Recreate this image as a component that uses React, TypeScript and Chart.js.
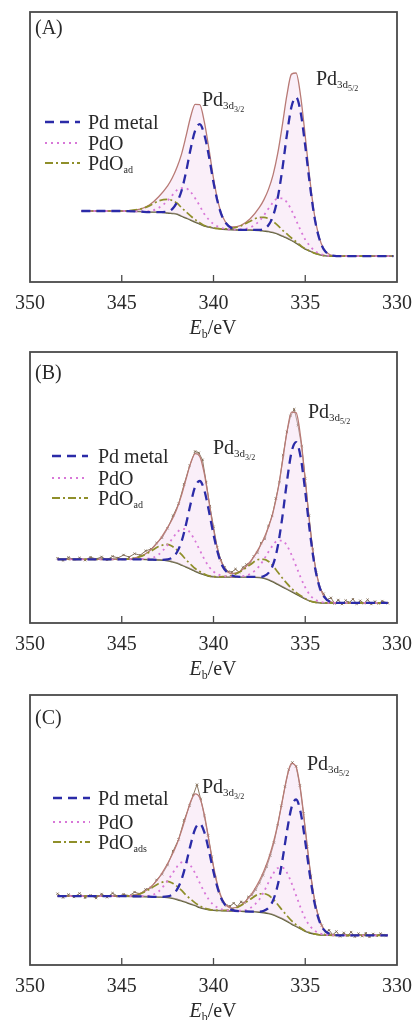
import React, { useEffect, useRef } from "react";
import { Chart, registerables } from "chart.js";

Chart.register(...registerables);

const SERIF = "'Liberation Serif', 'Times New Roman', 'DejaVu Serif', serif";

// ---------- data ----------
const xTickValues = [350, 345, 340, 335, 330];
const innerTickValues = [345, 340, 335];
const legendNames = ["Pd metal", "PdO", "PdO"];
const adSubA = "ad";
const adSubB = "ad";
const adSubC = "ads";
const peakSubLeft = "3/2";
const peakSubRight = "5/2";

const energyA = [347.2, 346, 345, 344, 343.5, 343, 342.5, 342.25, 342, 341.75, 341.5, 341.25, 341, 340.75, 340.5, 340.25, 340, 339.75, 339.5, 339, 338.5, 338, 337.5, 337.25, 337, 336.75, 336.5, 336.25, 336, 335.75, 335.5, 335.25, 335, 334.75, 334.5, 334.25, 334, 333.5, 333, 332, 331, 330.2];
const bgA = [26.3, 26.3, 26.3, 26.1, 25.9, 25.9, 25.6, 25.4, 25.2, 24.4, 23.7, 23.0, 22.2, 21.5, 20.7, 20.4, 20.0, 19.8, 19.6, 19.4, 19.3, 19.3, 19.1, 18.9, 18.7, 18.3, 17.8, 17.0, 16.3, 15.4, 14.4, 13.3, 12.2, 11.5, 10.7, 10.2, 9.8, 9.6, 9.6, 9.6, 9.6, 9.6];
const metalA = [26.3, 26.3, 26.3, 26.1, 25.9, 25.9, 26.1, 27.0, 29.4, 33.6, 40.6, 49.2, 56.1, 58.5, 54.6, 46.6, 36.9, 29.0, 23.8, 19.9, 19.3, 19.3, 19.3, 19.7, 21.1, 24.5, 31.2, 41.7, 54.5, 64.9, 68.4, 62.8, 50.4, 36.2, 24.1, 16.4, 12.2, 9.8, 9.6, 9.6, 9.6, 9.6];
const pdoA = [26.3, 26.3, 26.3, 26.1, 26.2, 27.4, 30.1, 32.1, 34.0, 34.8, 34.7, 33.4, 31.0, 28.2, 25.2, 23.1, 21.5, 20.5, 19.9, 19.4, 19.5, 20.2, 22.6, 24.7, 27.2, 29.5, 31.0, 31.0, 29.5, 26.6, 22.9, 19.1, 15.7, 13.4, 11.6, 10.6, 10.0, 9.6, 9.6, 9.6, 9.6, 9.6];
const adA = [26.3, 26.3, 26.3, 27.0, 28.2, 30.0, 30.6, 30.2, 29.3, 27.6, 26.0, 24.5, 23.1, 22.0, 20.9, 20.5, 20.0, 19.8, 19.7, 19.9, 20.8, 22.5, 23.9, 23.9, 23.5, 22.4, 21.0, 19.3, 17.8, 16.3, 14.9, 13.5, 12.3, 11.5, 10.7, 10.2, 9.8, 9.6, 9.6, 9.6, 9.6, 9.6];
const envA = [26.3, 26.3, 26.3, 27.0, 28.5, 31.5, 35.6, 38.5, 42.3, 47.2, 53.9, 61.1, 65.8, 65.7, 59.3, 49.4, 38.4, 29.7, 24.2, 20.4, 21.0, 23.4, 27.6, 30.5, 34.4, 39.8, 47.6, 58.0, 69.2, 77.0, 77.4, 68.8, 54.0, 38.1, 25.0, 16.8, 12.4, 9.8, 9.6, 9.6, 9.6, 9.6];

const energyB = [348.5, 346, 345, 344, 343.5, 343, 342.5, 342.25, 342, 341.75, 341.5, 341.25, 341, 340.75, 340.5, 340.25, 340, 339.75, 339.5, 339, 338.5, 338, 337.5, 337.25, 337, 336.75, 336.5, 336.25, 336, 335.75, 335.5, 335.25, 335, 334.75, 334.5, 334.25, 334, 333.5, 333, 332, 331, 330.5];
const bgB = [23.5, 23.5, 23.5, 23.5, 23.4, 23.3, 23.0, 22.6, 22.1, 21.4, 20.7, 19.9, 19.1, 18.4, 17.8, 17.3, 17.1, 17.0, 17.0, 17.0, 17.0, 17.0, 16.8, 16.5, 16.0, 15.2, 14.3, 13.4, 12.5, 11.6, 10.7, 9.8, 8.9, 8.1, 7.7, 7.5, 7.4, 7.4, 7.4, 7.4, 7.4, 7.4];
const metalB = [23.5, 23.5, 23.5, 23.5, 23.4, 23.3, 23.5, 24.1, 26.0, 29.9, 36.3, 43.9, 50.3, 52.4, 49.0, 41.3, 32.7, 25.5, 20.9, 17.5, 17.0, 17.0, 17.0, 17.3, 18.5, 21.6, 28.2, 39.0, 52.1, 63.0, 66.7, 61.2, 48.5, 33.7, 21.6, 13.9, 9.9, 7.6, 7.4, 7.4, 7.4, 7.4];
const pdoB = [23.5, 23.5, 23.5, 23.6, 23.8, 25.2, 28.8, 31.1, 33.3, 34.6, 34.7, 33.1, 30.3, 26.9, 23.6, 20.8, 19.0, 17.9, 17.4, 17.1, 17.2, 18.1, 21.0, 23.5, 26.3, 28.8, 30.4, 30.4, 28.6, 25.2, 21.0, 16.8, 13.1, 10.4, 8.8, 8.0, 7.6, 7.4, 7.4, 7.4, 7.4, 7.4];
const adB = [23.5, 23.5, 23.5, 24.5, 26.1, 28.2, 29.0, 28.3, 27.0, 25.3, 23.4, 21.7, 20.1, 19.0, 18.1, 17.4, 17.1, 17.0, 17.1, 17.6, 19.1, 21.5, 23.5, 23.5, 22.7, 21.0, 18.8, 16.6, 14.6, 12.8, 11.3, 10.1, 9.0, 8.1, 7.7, 7.5, 7.4, 7.4, 7.4, 7.4, 7.4, 7.4];
const envB = [23.5, 23.5, 23.5, 24.6, 26.5, 30.1, 35.3, 38.3, 42.1, 47.0, 53.0, 58.9, 62.5, 61.5, 55.1, 44.9, 34.6, 26.4, 21.4, 18.2, 19.3, 22.6, 27.9, 31.3, 35.5, 41.0, 48.8, 59.2, 70.3, 77.8, 77.6, 68.5, 52.8, 36.0, 22.7, 14.4, 10.1, 7.6, 7.4, 7.4, 7.4, 7.4];
const rawEnergyB = [348.5, 348.2, 347.9, 347.6, 347.3, 347.0, 346.7, 346.4, 346.1, 345.8, 345.5, 345.2, 344.9, 344.6, 344.3, 344.0, 343.7, 343.4, 343.1, 342.8, 342.5, 342.2, 341.9, 341.6, 341.3, 341.0, 340.8, 340.6, 340.4, 340.2, 340.0, 339.8, 339.6, 339.4, 339.2, 339.0, 338.8, 338.6, 338.4, 338.2, 338.0, 337.8, 337.6, 337.4, 337.2, 337.0, 336.8, 336.6, 336.4, 336.2, 336.0, 335.8, 335.6, 335.4, 335.2, 335.0, 334.8, 334.6, 334.4, 334.2, 334.0, 333.8, 333.6, 333.4, 333.2, 333.0, 332.8, 332.6, 332.4, 332.2, 332.0, 331.8, 331.6, 331.4, 331.2, 331.0, 330.8, 330.5];
const rawB = [23.9, 23.1, 24.2, 23.4, 24.0, 23.2, 24.3, 23.6, 24.4, 23.3, 24.6, 24.0, 25.1, 24.3, 25.6, 25.0, 26.6, 27.3, 29.5, 31.4, 34.9, 39.6, 44.0, 51.2, 58.0, 63.3, 62.8, 60.2, 52.0, 43.1, 35.5, 28.0, 23.2, 20.6, 19.0, 18.8, 19.9, 18.7, 20.5, 21.6, 22.0, 24.6, 25.9, 29.5, 31.0, 35.8, 39.5, 45.9, 52.0, 62.0, 70.5, 76.4, 78.9, 73.0, 65.3, 53.2, 39.6, 27.3, 18.5, 12.9, 10.8, 8.6, 9.3, 7.2, 8.5, 7.0, 8.3, 7.6, 8.8, 7.1, 8.2, 7.3, 8.6, 7.0, 7.9, 7.2, 8.1, 7.3];

const energyC = [348.5, 346, 345, 344, 343.5, 343, 342.5, 342.25, 342, 341.75, 341.5, 341.25, 341, 340.75, 340.5, 340.25, 340, 339.75, 339.5, 339, 338.5, 338, 337.5, 337.25, 337, 336.75, 336.5, 336.25, 336, 335.75, 335.5, 335.25, 335, 334.75, 334.5, 334.25, 334, 333.5, 333, 332, 331, 330.5];
const bgC = [25.5, 25.5, 25.5, 25.4, 25.3, 25.2, 25.0, 24.7, 24.3, 23.8, 23.2, 22.6, 22.0, 21.3, 20.8, 20.5, 20.3, 20.2, 20.1, 20.0, 19.9, 19.8, 19.6, 19.4, 19.1, 18.6, 17.9, 17.1, 16.2, 15.2, 14.3, 13.4, 12.5, 11.9, 11.5, 11.2, 11.1, 11.0, 11.0, 11.0, 11.0, 11.0];
const metalC = [25.5, 25.5, 25.5, 25.4, 25.3, 25.2, 25.4, 26.1, 27.8, 31.5, 37.4, 44.5, 50.4, 52.3, 49.2, 42.4, 34.5, 27.9, 23.6, 20.4, 19.9, 19.8, 19.8, 20.1, 21.2, 24.0, 29.6, 38.6, 49.4, 58.3, 61.3, 56.5, 45.7, 33.4, 23.2, 16.6, 13.2, 11.2, 11.0, 11.0, 11.0, 11.0];
const pdoC = [25.5, 25.5, 25.5, 25.5, 25.7, 27.2, 31.2, 33.8, 36.3, 38.0, 38.2, 36.8, 34.0, 30.4, 27.0, 24.2, 22.3, 21.2, 20.5, 20.1, 20.1, 21.1, 24.3, 27.2, 30.6, 33.8, 35.9, 36.1, 34.2, 30.4, 25.8, 21.2, 17.2, 14.5, 12.8, 11.8, 11.3, 11.0, 11.0, 11.0, 11.0, 11.0];
const adC = [25.5, 25.5, 25.5, 26.4, 28.0, 30.1, 31.0, 30.4, 29.2, 27.7, 25.9, 24.4, 23.0, 21.9, 21.1, 20.6, 20.3, 20.2, 20.2, 20.6, 22.0, 24.3, 26.3, 26.4, 25.8, 24.4, 22.4, 20.3, 18.3, 16.4, 14.9, 13.7, 12.6, 11.9, 11.5, 11.2, 11.1, 11.0, 11.0, 11.0, 11.0, 11.0];
const envC = [25.5, 25.5, 25.5, 26.5, 28.4, 32.1, 37.6, 40.9, 44.7, 49.6, 55.1, 60.5, 63.4, 62.0, 55.7, 46.2, 36.5, 28.9, 24.1, 21.1, 22.2, 25.6, 31.2, 34.9, 39.4, 45.0, 52.1, 60.8, 69.5, 74.7, 73.4, 64.6, 50.5, 36.0, 24.5, 17.2, 13.4, 11.2, 11.0, 11.0, 11.0, 11.0];
const rawEnergyC = [348.5, 348.2, 347.9, 347.6, 347.3, 347.0, 346.7, 346.4, 346.1, 345.8, 345.5, 345.2, 344.9, 344.6, 344.3, 344.0, 343.7, 343.4, 343.1, 342.8, 342.5, 342.2, 341.9, 341.6, 341.3, 341.1, 340.9, 340.7, 340.5, 340.3, 340.1, 339.9, 339.7, 339.5, 339.3, 339.1, 338.9, 338.7, 338.5, 338.3, 338.1, 337.9, 337.7, 337.5, 337.3, 337.1, 336.9, 336.7, 336.5, 336.3, 336.1, 335.9, 335.7, 335.5, 335.3, 335.1, 334.9, 334.7, 334.5, 334.3, 334.1, 333.9, 333.7, 333.5, 333.3, 333.1, 332.9, 332.7, 332.5, 332.3, 332.1, 331.9, 331.7, 331.5, 331.3, 331.1, 330.9, 330.6];
const rawC = [26.4, 25.0, 26.1, 25.2, 26.5, 24.9, 25.8, 24.8, 26.3, 25.1, 26.6, 25.4, 26.2, 25.6, 27.0, 26.3, 28.0, 28.6, 31.5, 33.6, 37.0, 42.2, 46.5, 53.6, 59.0, 63.0, 66.8, 61.5, 55.2, 48.0, 40.1, 32.6, 27.0, 23.6, 22.0, 21.8, 22.9, 21.7, 23.4, 23.0, 25.2, 26.0, 27.9, 30.3, 33.2, 36.4, 40.5, 45.3, 51.8, 59.0, 66.0, 72.3, 75.0, 73.6, 66.5, 56.2, 44.0, 33.0, 24.0, 18.4, 14.6, 12.0, 12.9, 11.2, 12.4, 10.6, 11.9, 10.8, 12.2, 10.5, 11.6, 10.7, 11.8, 10.4, 11.5, 10.8, 11.6, 10.9];

// ---------- styles ----------
const C_METAL = "#2b2ba8";
const C_PDO = "#d877d8";
const C_AD = "#8f8f2a";
const C_ENV = "#b87a75";
const C_BG = "#5c5c34";
const C_RAW = "#7d6850";
const C_TEXT = "#2a2a2a";
const DASH_METAL = [9, 6];
const DASH_PDO = [2, 4];
const DASH_AD = [8, 3, 2, 3];

type Part = { t: string; size: number; dy?: number; italic?: boolean };

function drawRich(ctx: CanvasRenderingContext2D, x: number, y: number, parts: Part[], center = false) {
  let total = 0;
  for (const p of parts) {
    ctx.font = `${p.italic ? "italic " : ""}${p.size}px ${SERIF}`;
    total += ctx.measureText(p.t).width;
  }
  let cx = center ? x - total / 2 : x;
  ctx.textBaseline = "alphabetic";
  ctx.textAlign = "left";
  ctx.fillStyle = C_TEXT;
  for (const p of parts) {
    ctx.font = `${p.italic ? "italic " : ""}${p.size}px ${SERIF}`;
    ctx.fillText(p.t, cx, y + (p.dy || 0));
    cx += ctx.measureText(p.t).width;
  }
}

type PanelCfg = {
  tag: string;
  tagY: number;
  energy: number[];
  bg: number[];
  metal: number[];
  pdo: number[];
  ad: number[];
  env: number[];
  rawE?: number[];
  raw?: number[];
  adSub: string;
  padTop: number;
  axisH: number;
  legend: { x0: number; x1: number; tx: number; ys: number[] };
  peaks: { x: number; y: number; sub: string }[];
};

const panels: PanelCfg[] = [
  {
    tag: "(A)", tagY: 34, energy: energyA, bg: bgA, metal: metalA, pdo: pdoA, ad: adA, env: envA,
    adSub: adSubA, padTop: 12, axisH: 58,
    legend: { x0: 45, x1: 80, tx: 88, ys: [122, 143, 163] },
    peaks: [{ x: 202, y: 106, sub: peakSubLeft }, { x: 316, y: 85, sub: peakSubRight }],
  },
  {
    tag: "(B)", tagY: 39, energy: energyB, bg: bgB, metal: metalB, pdo: pdoB, ad: adB, env: envB,
    rawE: rawEnergyB, raw: rawB, adSub: adSubB, padTop: 12, axisH: 57,
    legend: { x0: 52, x1: 88, tx: 98, ys: [116, 138, 158] },
    peaks: [{ x: 213, y: 114, sub: peakSubLeft }, { x: 308, y: 78, sub: peakSubRight }],
  },
  {
    tag: "(C)", tagY: 44, energy: energyC, bg: bgC, metal: metalC, pdo: pdoC, ad: adC, env: envC,
    rawE: rawEnergyC, raw: rawC, adSub: adSubC, padTop: 15, axisH: 55,
    legend: { x0: 53, x1: 90, tx: 98, ys: [118, 142, 162] },
    peaks: [{ x: 202, y: 113, sub: peakSubLeft }, { x: 307, y: 90, sub: peakSubRight }],
  },
];

const pts = (xs: number[], ys: number[]) => xs.map((x, i) => ({ x, y: ys[i] }));

function Panel({ cfg, top }: { cfg: PanelCfg; top: number }) {
  const ref = useRef<HTMLCanvasElement | null>(null);
  useEffect(() => {
    if (!ref.current) return;
    const line = (data: any, color: string, width: number, dash: number[], extra: any = {}) => ({
      data,
      borderColor: color,
      borderWidth: width,
      borderDash: dash,
      pointRadius: 0,
      cubicInterpolationMode: "monotone",
      fill: false,
      ...extra,
    });
    const datasets: any[] = [
      line(pts(cfg.energy, cfg.metal), C_METAL, 2.3, DASH_METAL, { label: legendNames[0] }),
      line(pts(cfg.energy, cfg.pdo), C_PDO, 1.8, DASH_PDO, { label: legendNames[1] }),
      line(pts(cfg.energy, cfg.ad), C_AD, 1.7, DASH_AD, { label: legendNames[2] + cfg.adSub }),
      line(pts(cfg.energy, cfg.env), C_ENV, 1.3, [], {
        label: "envelope",
        fill: { target: 4 },
        backgroundColor: "rgba(243,212,238,0.38)",
      }),
      line(pts(cfg.energy, cfg.bg), C_BG, 1.6, [], { label: "background" }),
    ];
    if (cfg.raw && cfg.rawE) {
      datasets.push({
        label: "raw",
        data: pts(cfg.rawE, cfg.raw),
        borderColor: C_RAW,
        borderWidth: 0.9,
        pointRadius: 1.6,
        pointStyle: "crossRot",
        pointBorderColor: C_RAW,
        pointBorderWidth: 0.9,
        fill: false,
      });
    }

    const decor = {
      id: "decor",
      afterDraw(chart: any) {
        const ctx: CanvasRenderingContext2D = chart.ctx;
        const a = chart.chartArea;
        const xs = chart.scales.x;
        ctx.save();
        ctx.strokeStyle = "#4a4a4a";
        ctx.lineWidth = 1.8;
        ctx.setLineDash([]);
        ctx.strokeRect(a.left, a.top, a.right - a.left, a.bottom - a.top);
        ctx.lineWidth = 1.3;
        for (const v of innerTickValues) {
          const px = xs.getPixelForValue(v);
          ctx.beginPath();
          ctx.moveTo(px, a.bottom);
          ctx.lineTo(px, a.bottom - 7);
          ctx.stroke();
        }
        drawRich(ctx, 35, cfg.tagY, [{ t: cfg.tag, size: 20 }]);
        for (const p of cfg.peaks) {
          drawRich(ctx, p.x, p.y, [
            { t: "Pd", size: 20 },
            { t: "3d", size: 11, dy: 3 },
            { t: p.sub, size: 8, dy: 6 },
          ]);
        }
        const L = cfg.legend;
        const rows = [
          { color: C_METAL, w: 2.6, dash: DASH_METAL, parts: [{ t: legendNames[0], size: 20 }] as Part[] },
          { color: C_PDO, w: 2, dash: DASH_PDO, parts: [{ t: legendNames[1], size: 20 }] as Part[] },
          {
            color: C_AD, w: 2, dash: DASH_AD,
            parts: [{ t: legendNames[2], size: 20 }, { t: cfg.adSub, size: 10, dy: 3 }] as Part[],
          },
        ];
        rows.forEach((r, i) => {
          const y = L.ys[i];
          ctx.strokeStyle = r.color;
          ctx.lineWidth = r.w;
          ctx.setLineDash(r.dash);
          ctx.beginPath();
          ctx.moveTo(L.x0, y);
          ctx.lineTo(L.x1, y);
          ctx.stroke();
          ctx.setLineDash([]);
          drawRich(ctx, L.tx, y + 7, r.parts);
        });
        drawRich(ctx, 213, a.bottom + 52, [
          { t: "E", size: 20, italic: true },
          { t: "b", size: 12, dy: 4 },
          { t: "/eV", size: 20 },
        ], true);
        ctx.restore();
      },
    };

    const chart = new Chart(ref.current, {
      type: "line",
      data: { datasets },
      options: {
        animation: false,
        responsive: false,
        maintainAspectRatio: false,
        layout: { padding: { left: 30, right: 18, top: cfg.padTop, bottom: 0 } },
        plugins: {
          legend: { display: false },
          tooltip: { enabled: false },
          title: { display: false },
        },
        scales: {
          x: {
            type: "linear",
            reverse: true,
            min: 330,
            max: 350,
            grid: { display: false, drawTicks: false },
            border: { display: false },
            afterBuildTicks: (s: any) => {
              s.ticks = xTickValues.map((v) => ({ value: v }));
            },
            ticks: {
              autoSkip: false,
              maxRotation: 0,
              padding: 10,
              color: C_TEXT,
              font: { family: SERIF, size: 20 },
            },
            afterFit: (s: any) => {
              s.height = cfg.axisH;
              s.paddingLeft = 0;
              s.paddingRight = 0;
            },
          },
          y: { display: false, min: 0, max: 100 },
        },
      } as any,
      plugins: [decor],
    });
    return () => chart.destroy();
  }, [cfg]);
  return (
    <canvas
      ref={ref}
      width={415}
      height={340}
      style={{ position: "absolute", left: 0, top, width: 415, height: 340, display: "block" }}
    />
  );
}

export default function App() {
  return (
    <div style={{ position: "absolute", left: 0, top: 0, width: 415, height: 1020, background: "#fff" }}>
      {panels.map((p, i) => (
        <Panel key={p.tag} cfg={p} top={i * 340} />
      ))}
    </div>
  );
}
